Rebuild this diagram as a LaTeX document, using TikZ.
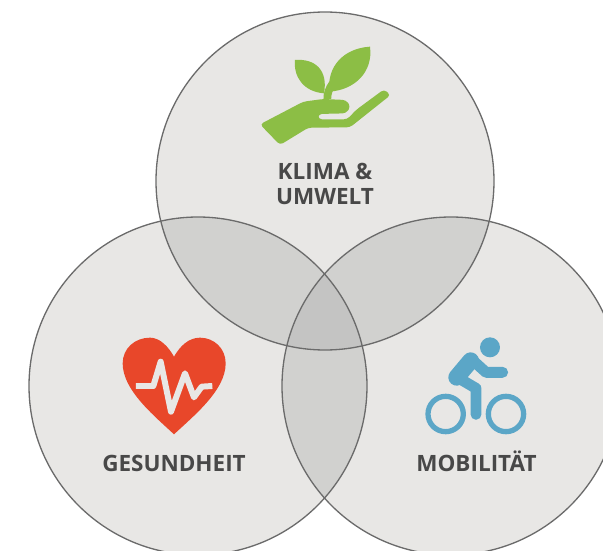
\documentclass[tikz,border=0pt]{standalone}
\usepackage{fontspec}
\setmainfont{Open Sans}
\definecolor{inkgray}{HTML}{484848}
\definecolor{leafgreen}{HTML}{8CBE45}
\definecolor{heartred}{HTML}{E8472A}
\definecolor{bikeblue}{HTML}{5BA6C7}
\definecolor{paper}{HTML}{E8E7E5}
\definecolor{overlaptwo}{HTML}{D1D1CF}
\definecolor{overlapthree}{HTML}{C4C4C3}
\tikzset{
  venn/.style={circle, fill=paper, minimum size=6.76cm, inner sep=0pt},
  vennline/.style={draw=black!58, line width=0.75pt},
  topic/.style={text=inkgray, font=\fontsize{12.8}{14.4}\selectfont\bfseries, align=center, inner sep=0pt},
  icon/.style={shift={#1}, scale=1/3},
}

\begin{document}
\begin{tikzpicture}[x=0.02cm, y=-0.02cm]
      \useasboundingbox (0,0) rectangle (603,551);
      \clip (0,0) rectangle (603,551);

      \node[venn] (klima) at (325,181) {};
      \node[venn] (gesundheit) at (198,386) {};
      \node[venn] (mobilitaet) at (451,386) {};

      % overlaps
      \begin{scope}
        \clip (gesundheit.center) circle[radius=169];
        \fill[overlaptwo] (mobilitaet.center) circle[radius=169];
      \end{scope}
      \begin{scope}
        \clip (klima.center) circle[radius=169];
        \fill[overlaptwo] (gesundheit.center) circle[radius=169];
        \fill[overlaptwo] (mobilitaet.center) circle[radius=169];
        \clip (gesundheit.center) circle[radius=169];
        \fill[overlapthree] (mobilitaet.center) circle[radius=169];
      \end{scope}
      \foreach \n in {klima, gesundheit, mobilitaet}
        \draw[vennline] (\n.center) circle[radius=169];

      \node[topic] (klimatext) at (325,184) {KLIMA \&\\UMWELT};
      \node[topic, anchor=base] (gesundheittext) at (174,471.5) {GESUNDHEIT};
      \node[topic, anchor=base] (mobilitaettext) at (476.5,471.5) {MOBILITÄT};

      % plant in hand
      \begin{scope}[icon={(240,30)}]
        \fill[leafgreen] (252,190) .. controls (190,185) and (160,140) .. (165,90) .. controls (225,85) and (265,120) .. (252,190) -- cycle;
        \fill[leafgreen] (268,185) .. controls (260,110) and (310,55) .. (390,50) .. controls (400,125) and (345,180) .. (268,185) -- cycle;
        \draw[leafgreen, line width=4.4pt] (262,207) .. controls (262,190) and (266,178) .. (278,160);
        \fill[leafgreen, rounded corners=2pt] (60,283) -- (190,215) -- (250,207) -- (318,210) -- (332,230) -- (318,250) -- (235,252) -- (235,268) -- (322,268) -- (348,240) -- (432,178) -- (452,195) -- (330,292) -- (205,293) -- (120,345) -- cycle;
      \end{scope}

      % heart
      \begin{scope}[icon={(90,320)}]
        \fill[heartred] (252,343) .. controls (190,285) and (98,210) .. (98,130) .. controls (98,85) and (135,53) .. (180,53) .. controls (210,53) and (235,80) .. (252,110) .. controls (269,80) and (295,53) .. (330,53) .. controls (372,53) and (407,85) .. (407,130) .. controls (407,210) and (314,285) .. (252,343) -- cycle;
        \draw[paper, line width=3.4pt, line join=round] (138,198) -- (190,198) -- (212,125) -- (243,275) -- (285,160) -- (312,232) -- (335,200) -- (367,198);
      \end{scope}

      % cyclist
      \begin{scope}[icon={(400,320)}]
        \fill[bikeblue] (270,82) circle[radius=30];
        \draw[bikeblue, line width=3pt] (137,282) circle[radius=53] (318,282) circle[radius=53];
        \draw[bikeblue, line width=6.2pt, line cap=round, line join=round] (215,118) -- (258,157) -- (308,157) (172,172) -- (228,205) -- (228,283);
        \draw[bikeblue, line width=9.5pt, line cap=round, line join=round] (212,122) -- (170,172);
      \end{scope}
    \end{tikzpicture}
\end{document}
